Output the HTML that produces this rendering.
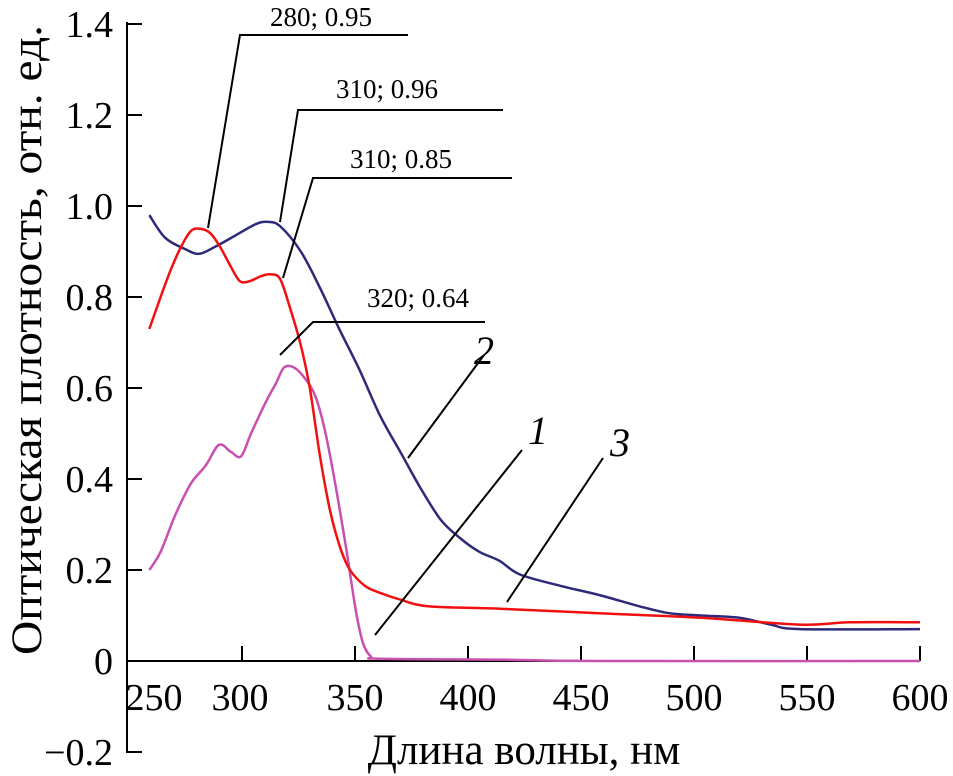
<!DOCTYPE html>
<html><head><meta charset="utf-8"><style>
html,body{margin:0;padding:0;background:#fff;width:953px;height:776px;overflow:hidden}
svg{font-family:"Liberation Serif",serif}
</style></head><body>
<svg id="chart" width="953" height="776" viewBox="0 0 953 776">
<g id="axes"></g>
<g id="series"></g>
<g id="ann" stroke="#000" stroke-width="2" fill="none">
<polyline points="208,228 240,35 408,35"/>
<polyline points="280,222 298,110 503,110"/>
<polyline points="283,278 313,178 512,178"/>
<polyline points="280,355 313,322 485,322"/>
<line x1="408" y1="458" x2="484" y2="355"/>
<line x1="375" y1="635" x2="522" y2="450"/>
<line x1="507" y1="602" x2="603" y2="458"/>
</g>
<g font-size="27" fill="#000">
<text x="270" y="26">280; 0.95</text>
<text x="336" y="98">310; 0.96</text>
<text x="350" y="168">310; 0.85</text>
<text x="367" y="307">320; 0.64</text>
</g>
<g font-size="40" font-style="italic" fill="#000">
<text x="474" y="364">2</text>
<text x="528" y="444">1</text>
<text x="610" y="456">3</text>
</g>
<text x="524" y="764" font-size="43" text-anchor="middle">Длина волны, нм</text>
<text transform="translate(41,340) rotate(-90)" font-size="43" text-anchor="middle" textLength="630" lengthAdjust="spacingAndGlyphs">Оптическая плотность, отн. ед.</text>
</svg>
<script>
const xTicks=[250,300,350,400,450,500,550,600];
const yTicks=[-0.2,0,0.2,0.4,0.6,0.8,1.0,1.2,1.4];
const yTickLabels=["\u22120.2","0","0.2","0.4","0.6","0.8","1.0","1.2","1.4"];
const wl2=[259,266,275,281,288,297,306,311.5,317,326,334.5,343,352,361,370,379,388,396.5,405,414,423,441,458,476,489,503,520,534,547,600];
const od2=[0.98,0.93,0.905,0.895,0.91,0.935,0.96,0.965,0.955,0.9,0.82,0.73,0.64,0.54,0.46,0.38,0.31,0.27,0.24,0.22,0.19,0.165,0.145,0.12,0.105,0.1,0.095,0.08,0.07,0.07];
const wl1=[259,264,268.5,273,277.4,281.4,286,290.3,294.7,299,303.5,308,312.4,316.8,321,325.7,330,334.5,339,343.4,347.8,354.4,361,370,383,414,458,503,547,569,600];
const od1=[0.73,0.8,0.86,0.91,0.945,0.95,0.94,0.91,0.87,0.835,0.835,0.845,0.85,0.84,0.78,0.7,0.6,0.45,0.33,0.25,0.2,0.165,0.15,0.135,0.12,0.115,0.105,0.095,0.08,0.085,0.085];
const wl3=[259,264,270.4,277.4,284,289.8,295,299.6,304,310.6,315,318.6,323,328,332.6,337,341.6,346,350.4,353.5,357,361,414,458,600];
const od3=[0.2,0.24,0.32,0.39,0.43,0.475,0.46,0.45,0.5,0.57,0.61,0.645,0.645,0.62,0.58,0.5,0.38,0.25,0.11,0.04,0.01,0.005,0.003,0,0];
const X=v=>129+(v-250)*113/50;
const Y=v=>661-v*455;
const NS="http://www.w3.org/2000/svg";
const ax=document.getElementById('axes');
function mk(p,t,a){const e=document.createElementNS(NS,t);for(const k in a)e.setAttribute(k,a[k]);p.appendChild(e);return e;}
const yl=mk(ax,'line',{x1:127,y1:Y(1.4)-2,x2:127,y2:Y(-0.2)+1,stroke:'#000','stroke-width':2});


const xl=mk(ax,'line',{x1:127,y1:Y(0),x2:X(600),y2:Y(0),stroke:'#000','stroke-width':2});


xTicks.forEach(v=>{
 if(v>250){const t=mk(ax,'line',{x1:X(v),y1:Y(0),x2:X(v),y2:Y(0)-15,stroke:'#000','stroke-width':2});
 
 }
 const tx=mk(ax,'text',{x:v==250?154:X(v)+(v==300?-2:0),y:710,'font-size':38,'text-anchor':'middle'});
 tx.textContent=v;
 
 
});
yTicks.forEach((v,i)=>{
 const t=mk(ax,'line',{x1:127,y1:Y(v),x2:142,y2:Y(v),stroke:'#000','stroke-width':2});
 
 
 const tx=mk(ax,'text',{x:113,y:Y(v)+13,'font-size':38,'text-anchor':'end'});
 tx.textContent=yTickLabels[i];
 
 
});
const sg=document.getElementById('series');
function smooth(pts){
 let d='M'+pts[0][0].toFixed(1)+','+pts[0][1].toFixed(1);
 for(let i=0;i<pts.length-1;i++){
  const p0=pts[Math.max(0,i-1)],p1=pts[i],p2=pts[i+1],p3=pts[Math.min(pts.length-1,i+2)];
  const c1=[p1[0]+(p2[0]-p0[0])/6,p1[1]+(p2[1]-p0[1])/6];
  const c2=[p2[0]-(p3[0]-p1[0])/6,p2[1]-(p3[1]-p1[1])/6];
  d+=' C'+c1.map(v=>v.toFixed(1)).join(',')+' '+c2.map(v=>v.toFixed(1)).join(',')+' '+p2.map(v=>v.toFixed(1)).join(',');
 }
 return d;
}
function line(wl,od,c,name){
 const pts=wl.map((w,i)=>[X(w),Y(od[i])]);
 const p=mk(sg,'path',{d:smooth(pts),fill:'none',stroke:c,'stroke-width':2.5,'stroke-linejoin':'round'});
 
 
}
line(wl3,od3,'#c94fb0','series-3');
line(wl2,od2,'#2e2a7a','series-2');
line(wl1,od1,'#f01010','series-1');
</script>
</body></html>
